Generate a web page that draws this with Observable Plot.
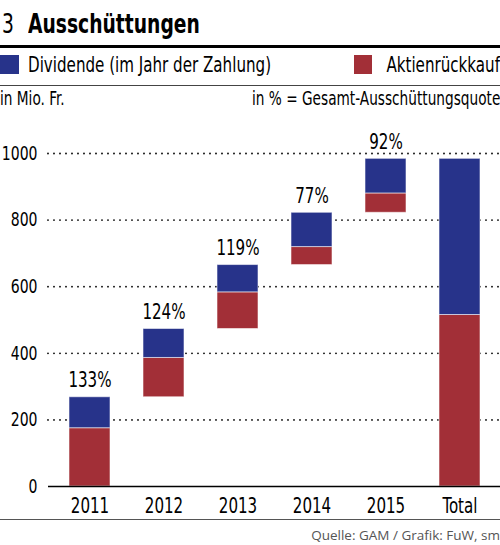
<!DOCTYPE html>
<html>
<head>
<meta charset="utf-8">
<script src="https://cdn.jsdelivr.net/npm/d3@7"></script>
<script src="https://cdn.jsdelivr.net/npm/@observablehq/plot@0.6"></script>
<style>
  body { margin: 0; background: #fff; }
  #chart { position: relative; width: 500px; height: 545px; overflow: hidden;
           font-family: "DejaVu Sans Condensed", "DejaVu Sans", sans-serif; color: #000; }
  .abs { position: absolute; white-space: nowrap; line-height: 1; }
  .nl { transform: scaleX(0.8); transform-origin: left center; }
  .nr { transform: scaleX(0.8); transform-origin: right center; }
  #title { position: absolute; left: 0; top: 0; width: 500px; height: 45px; border-bottom: 3px solid #000; }
  #legend { position: absolute; left: 0; top: 48px; width: 500px; height: 37px; border-bottom: 1px solid #444; }
  .sw { position: absolute; top: 7px; width: 19px; height: 19px; }
  #plot { position: absolute; left: 0; top: 110px; }
  #footer { position: absolute; left: 0; top: 519px; width: 500px; height: 26px; border-top: 1.5px solid #555; }
</style>
</head>
<body>
<div id="chart">
  <div id="title">
    <span class="abs nl" style="left:2px; top:11px; font-size:26px;">3</span>
    <span class="abs nl" style="left:28px; top:11px; font-size:26px; font-weight:bold;">Ausschüttungen</span>
  </div>
  <div id="legend">
    <div class="sw" style="left:0; background:#27338a;"></div>
    <span class="abs nl" style="left:28px; top:7px; font-size:21px;">Dividende (im Jahr der Zahlung)</span>
    <div class="sw" style="left:354px; width:18px; background:#a22f37;"></div>
    <span class="abs nr" style="right:0; top:7px; font-size:21px;">Aktienrückkauf</span>
  </div>
  <span class="abs nl" style="left:0; top:89px; font-size:19px;">in Mio. Fr.</span>
  <span class="abs nr" style="right:0; top:89px; font-size:19px;">in % = Gesamt-Ausschüttungsquote</span>
  <div id="plot"></div>
  <div id="footer">
    <span class="abs" style="right:0; top:9px; font-family:'Open Sans', sans-serif; font-size:13.5px; color:#555;">Quelle: GAM / Grafik: FuW, sm</span>
  </div>
</div>
<script>
const jahre = ["2011", "2012", "2013", "2014", "2015"];
const dividende = [93, 87, 82, 103, 104];
const rueckkauf = [175, 118, 110, 54, 58];
const quote = [133, 124, 119, 77, 92];
const yTicks = [0, 200, 400, 600, 800, 1000];

const BLUE = "#27338a";
const RED = "#a22f37";

// waterfall: each year stacks on top of the previous one
let segments = [];
let labels = [];
let base = 0;
for (let i = 0; i < jahre.length; i++) {
    segments.push({ jahr: jahre[i], art: "Aktienrückkauf", y1: base, y2: base + rueckkauf[i] });
    base += rueckkauf[i];
    segments.push({ jahr: jahre[i], art: "Dividende", y1: base, y2: base + dividende[i] });
    base += dividende[i];
    labels.push({ jahr: jahre[i], y: base, text: `${quote[i]}%` });
}
let sumRk = d3.sum(rueckkauf);
let sumDiv = d3.sum(dividende);
segments.push({ jahr: "Total", art: "Aktienrückkauf", y1: 0, y2: sumRk });
segments.push({ jahr: "Total", art: "Dividende", y1: sumRk, y2: sumRk + sumDiv });

let chart = Plot.plot({
    width: 500,
    height: 410,
    marginTop: 43,
    marginBottom: 34,
    marginLeft: 48,
    marginRight: 0,
    style: { fontFamily: "'DejaVu Sans Condensed', 'DejaVu Sans', sans-serif", color: "#000" },
    x: { domain: jahre.concat(["Total"]), paddingInner: 0.45, paddingOuter: 0.24 },
    y: { domain: [0, 1000] },
    color: { domain: ["Dividende", "Aktienrückkauf"], range: [BLUE, RED] },
    marks: [
        Plot.ruleY(yTicks.slice(1), { stroke: "#000", strokeWidth: 1.8, strokeDasharray: "0 6", strokeLinecap: "round" }),
        Plot.barY(segments, { x: "jahr", y1: "y1", y2: "y2", fill: "art", stroke: "#fff", strokeOpacity: 0.55, strokeWidth: 1 }),
        Plot.ruleY([0], { stroke: "#000", strokeWidth: 1.5 }),
        Plot.text(labels, { x: "jahr", y: "y", text: "text", lineAnchor: "bottom", dy: -10, fontSize: 21 }),
        Plot.axisY({ ticks: yTicks, tickFormat: d => String(d), tickSize: 0, tickPadding: 11, fontSize: 19.5, label: null }),
        Plot.axisX({ tickSize: 0, tickPadding: 12, fontSize: 21, label: null })
    ]
});

// squeeze the texts horizontally to look like a condensed font
chart.querySelectorAll("text").forEach(el => {
    let t = el.getAttribute("transform") || "";
    el.setAttribute("transform", t + " scale(0.8,1)");
});

document.getElementById("plot").append(chart);
</script>
</body>
</html>
